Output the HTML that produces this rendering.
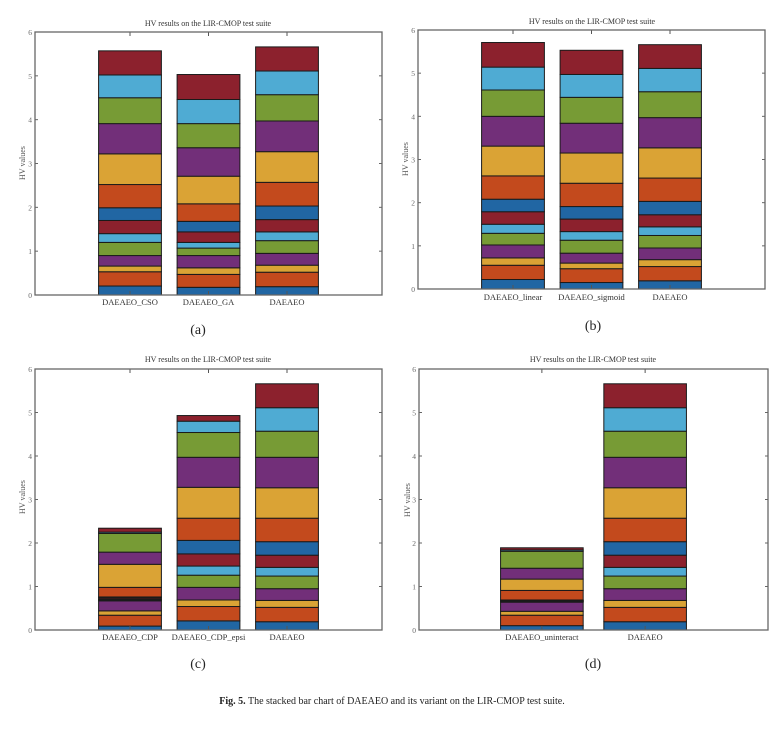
<!DOCTYPE html>
<html><head><meta charset="utf-8"><style>
html,body{margin:0;padding:0;background:#fff;width:783px;height:729px;overflow:hidden}
svg{display:block}
text{font-family:"Liberation Serif",serif}
</style></head><body>
<svg id="fig" width="783" height="729"></svg>
<script>
const colors=["#2166A3","#C34A1D","#DAA335","#722F79","#779B35","#4FABD3","#8C212D","#2166A3","#C34A1D","#DAA335","#722F79","#779B35","#4FABD3","#8C212D"];
const yTicks=[0,1,2,3,4,5,6];
const catsA=["DAEAEO_CSO","DAEAEO_GA","DAEAEO"];
const catsB=["DAEAEO_linear","DAEAEO_sigmoid","DAEAEO"];
const catsC=["DAEAEO_CDP","DAEAEO_CDP_epsi","DAEAEO"];
const catsD=["DAEAEO_uninteract","DAEAEO"];
const segDAEAEO=[0.19,0.33,0.16,0.27,0.29,0.20,0.28,0.31,0.54,0.70,0.70,0.60,0.54,0.55];
const segCSO=[0.205,0.325,0.13,0.24,0.30,0.20,0.30,0.29,0.53,0.70,0.69,0.59,0.52,0.55];
const segGA=[0.175,0.295,0.15,0.28,0.17,0.13,0.24,0.24,0.40,0.63,0.65,0.55,0.55,0.57];
const segLinear=[0.22,0.33,0.17,0.30,0.27,0.21,0.29,0.29,0.54,0.69,0.69,0.61,0.53,0.57];
const segSigmoid=[0.15,0.32,0.13,0.23,0.30,0.20,0.29,0.29,0.54,0.70,0.69,0.60,0.53,0.56];
const segCDP=[0.09,0.25,0.10,0.23,0.02,0.02,0.03,0.02,0.22,0.53,0.28,0.43,0.03,0.09];
const segEpsi=[0.21,0.33,0.15,0.29,0.28,0.21,0.28,0.31,0.51,0.71,0.69,0.57,0.26,0.13];
const segUnint=[0.10,0.24,0.09,0.21,0.015,0.01,0.015,0.01,0.22,0.26,0.25,0.39,0.03,0.05];

const panels=[
 {id:"a",x0:35,x1:382,y0:32,y1:295,cats:catsA,data:[segCSO,segGA,segDAEAEO],xmin:-0.21,xmax:4.21,title:[208,26],ylab:[25,163],lab:305,cap:[198,334]},
 {id:"b",x0:418,x1:765,y0:30,y1:289,cats:catsB,data:[segLinear,segSigmoid,segDAEAEO],xmin:-0.21,xmax:4.21,title:[592,24],ylab:[408,159],lab:300,cap:[593,330]},
 {id:"c",x0:35,x1:382,y0:369,y1:630,cats:catsC,data:[segCDP,segEpsi,segDAEAEO],xmin:-0.21,xmax:4.21,title:[208,362],ylab:[25,497],lab:640,cap:[198,668]},
 {id:"d",x0:419,x1:768,y0:369,y1:630,cats:catsD,data:[segUnint,segDAEAEO],xmin:-0.19,xmax:3.19,title:[593,362],ylab:[410,500],lab:640,cap:[593,668]}
];
const NS="http://www.w3.org/2000/svg";
const svg=document.getElementById("fig");
function mk(tag,attrs,parent){const e=document.createElementNS(NS,tag);for(const k in attrs)e.setAttribute(k,attrs[k]);(parent||svg).appendChild(e);return e;}
panels.forEach(p=>{
  const g=mk("g",{});
  
  
  const xs=v=>p.x0+(v-p.xmin)/(p.xmax-p.xmin)*(p.x1-p.x0);
  const ys=v=>p.y1-v/6*(p.y1-p.y0);
  const barW=(p.x1-p.x0)/(p.xmax-p.xmin)*0.8;
  p.data.forEach((segs,i)=>{
    let cum=0;
    const cx=xs(i+1);
    segs.forEach((s,j)=>{
      const r=mk("rect",{x:cx-barW/2,y:ys(cum+s),width:barW,height:ys(cum)-ys(cum+s),fill:colors[j],stroke:"#1a1a1a","stroke-width":1},g);
      
      
      cum+=s;
    });
    const t=mk("text",{x:cx,y:p.lab,"font-size":8.5,"text-anchor":"middle",fill:"#333"},g);
    t.textContent=p.cats[i];
    
    
    mk("line",{x1:cx,x2:cx,y1:p.y0,y2:p.y0+4,stroke:"#555","stroke-width":1},g);
    mk("line",{x1:cx,x2:cx,y1:p.y1,y2:p.y1-4,stroke:"#555","stroke-width":1},g);
  });
  const box=mk("rect",{x:p.x0,y:p.y0,width:p.x1-p.x0,height:p.y1-p.y0,fill:"none",stroke:"#666","stroke-width":1.3},g);
  
  
  yTicks.forEach(v=>{
    mk("line",{x1:p.x0,x2:p.x0+3,y1:ys(v),y2:ys(v),stroke:"#666"},g);
    mk("line",{x1:p.x1,x2:p.x1-3,y1:ys(v),y2:ys(v),stroke:"#666"},g);
    const t=mk("text",{x:p.x0-3,y:ys(v)+3,"font-size":7.5,"text-anchor":"end",fill:"#666"},g);
    t.textContent=v;
    
    
  });
  const ti=mk("text",{x:p.title[0],y:p.title[1],"font-size":8,"text-anchor":"middle",fill:"#333"},g);
  ti.textContent="HV results on the LIR-CMOP test suite";
  
  
  const yl=mk("text",{x:p.ylab[0],y:p.ylab[1],"font-size":8,"text-anchor":"middle",fill:"#555",transform:`rotate(-90 ${p.ylab[0]} ${p.ylab[1]})`},g);
  yl.textContent="HV values";
  
  
  const cp=mk("text",{x:p.cap[0],y:p.cap[1],"font-size":14,"text-anchor":"middle",fill:"#222"},g);
  cp.textContent="("+p.id+")";
  
  
});
const fc=mk("text",{x:392,y:704,"font-size":10,"text-anchor":"middle",fill:"#222"});


const b=mk("tspan",{"font-weight":"bold"},fc);b.textContent="Fig. 5.";
const r=mk("tspan",{},fc);r.textContent="  The stacked bar chart of DAEAEO and its variant on the LIR-CMOP test suite.";
</script>
</body></html>
